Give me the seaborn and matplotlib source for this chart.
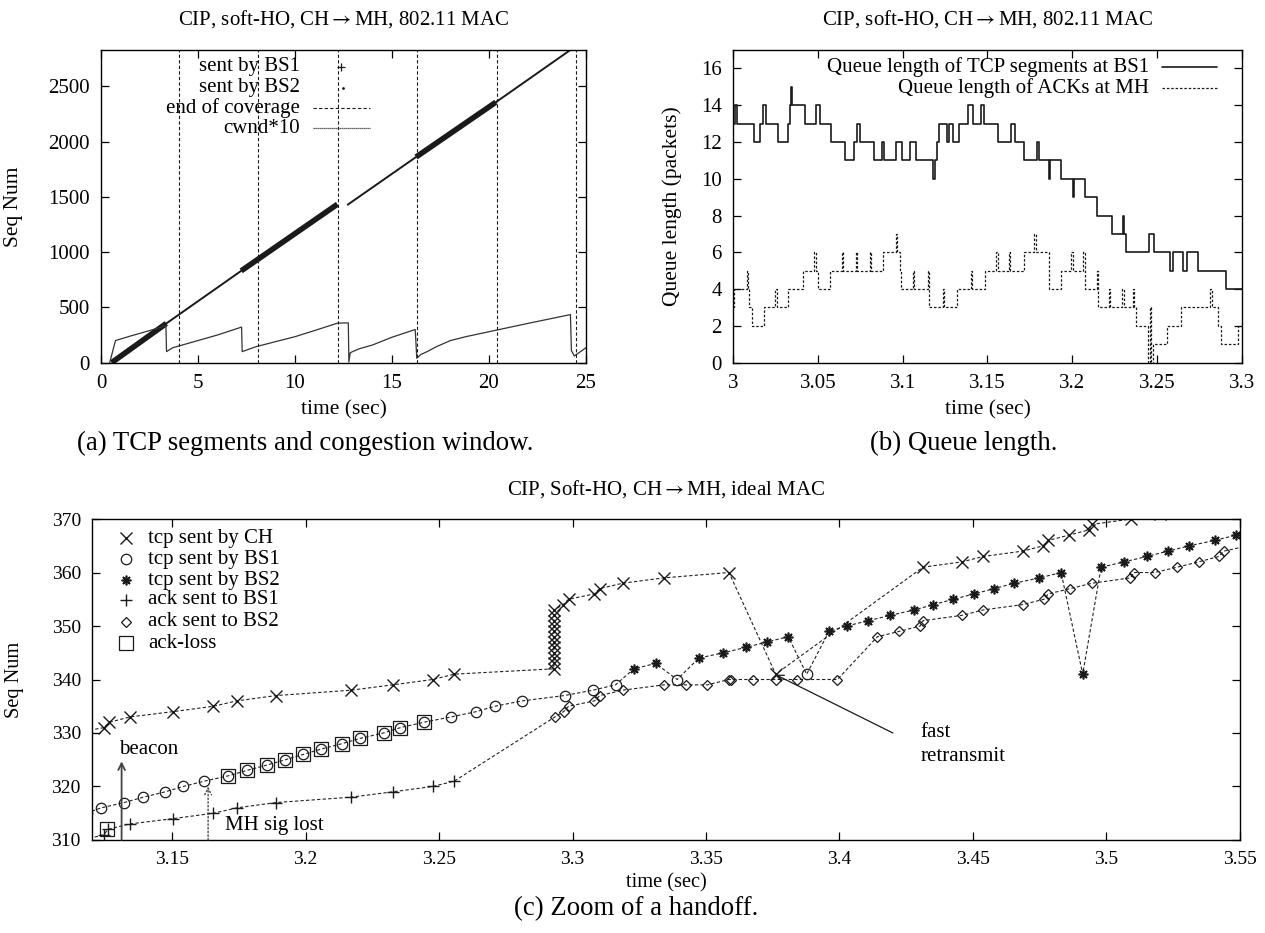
import numpy as np
import pandas as pd
import matplotlib
matplotlib.use("Agg")
import matplotlib.pyplot as plt
from matplotlib.ticker import FuncFormatter
import seaborn as sns

# ---------------- (a) TCP segments and congestion window ----------------
# knots of the seq-number trace, one run per coverage period
a_bs1_t = [0.55, 3.37, 7.23, 12.19, 16.24, 20.36]
a_bs1_seq = [0, 355, 831, 1434, 1861, 2358]
a_bs1_run = [1, 1, 2, 2, 3, 3]
a_bs2_t = [3.37, 7.23, 12.72, 16.24, 20.36, 24.17, 25.0]
a_bs2_seq = [355, 831, 1430, 1861, 2358, 2827, 2930]
a_bs2_run = [1, 1, 2, 2, 3, 3, 3]
a_coverage_end = [4.02, 8.12, 12.2, 16.28, 20.4, 24.5]
a_cwnd_t = [0.45, 0.75, 1.5, 2.5, 3.35, 3.38, 3.7, 4.2, 5.0, 6.0, 7.25, 7.28, 8.0, 9.0,
            10.0, 11.0, 12.2, 12.75, 12.78, 12.85, 13.3, 14.0, 15.0, 16.2, 16.28, 16.5,
            16.8, 17.3, 18.0, 18.8, 20.4, 22.0, 24.2, 24.25, 24.4, 24.6, 25.0]
a_cwnd10 = [0, 200, 240, 290, 335, 100, 135, 160, 200, 250, 322, 100, 145, 190,
            235, 290, 358, 360, 5, 90, 125, 160, 230, 300, 40, 75,
            99, 145, 199, 235, 295, 355, 435, 110, 60, 85, 135]

# ---------------- (b) queue length ----------------
q_tcp_t = [3.0, 3.0012, 3.0022, 3.0125, 3.0162, 3.0175, 3.0192, 3.0267, 3.0322, 3.0334,
           3.0342, 3.0349, 3.0424, 3.0487, 3.0512, 3.0579, 3.0662, 3.0716, 3.0729, 3.0746,
           3.0829, 3.0879, 3.0891, 3.0959, 3.0996, 3.1041, 3.1078, 3.1178, 3.1191, 3.1203,
           3.1216, 3.1261, 3.1273, 3.1296, 3.1335, 3.1385, 3.1415, 3.146, 3.1478, 3.156,
           3.164, 3.166, 3.1715, 3.179, 3.1802, 3.1865, 3.187, 3.1935, 3.2002, 3.2009,
           3.2077, 3.2147, 3.2232, 3.2297, 3.2304, 3.2314, 3.2451, 3.2481, 3.2576, 3.2594,
           3.2651, 3.2676, 3.2738, 3.2908, 3.3]
q_tcp = [13, 14, 13, 12, 13, 14, 13, 12, 13, 14,
         15, 14, 13, 14, 13, 12, 11, 12, 13, 12,
         11, 12, 11, 12, 11, 12, 11, 10, 11, 12,
         13, 12, 13, 12, 13, 14, 13, 14, 13, 12,
         13, 12, 11, 12, 11, 10, 11, 10, 9, 10,
         9, 8, 7, 8, 7, 6, 7, 6, 5, 6,
         5, 6, 5, 4, 4]
q_ack_t = [3.0, 3.0005, 3.008, 3.0087, 3.0097, 3.0112, 3.0185, 3.025, 3.0257, 3.0325,
           3.0412, 3.0479, 3.0487, 3.0499, 3.0574, 3.0642, 3.0649, 3.0724, 3.0731, 3.0809,
           3.0816, 3.0886, 3.0959, 3.0966, 3.0984, 3.0991, 3.1061, 3.1068, 3.1148, 3.1153,
           3.1158, 3.1236, 3.1243, 3.1323, 3.1403, 3.141, 3.1483, 3.1553, 3.156, 3.1628,
           3.1635, 3.1715, 3.1777, 3.1785, 3.186, 3.1865, 3.1935, 3.1994, 3.2002, 3.2064,
           3.2072, 3.2144, 3.2149, 3.2214, 3.2222, 3.2294, 3.2302, 3.2359, 3.2366, 3.2376,
           3.2446, 3.2459, 3.2464, 3.2476, 3.2559, 3.2639, 3.2813, 3.2821, 3.2858, 3.2876,
           3.2976, 3.3]
q_ack = [3, 4, 5, 4, 3, 2, 3, 4, 3, 4,
         5, 6, 5, 4, 5, 6, 5, 6, 5, 6,
         5, 6, 7, 6, 5, 4, 5, 4, 5, 4,
         3, 4, 3, 4, 5, 4, 5, 6, 5, 6,
         5, 6, 7, 6, 5, 4, 5, 6, 5, 6,
         4, 5, 3, 4, 3, 4, 3, 4, 3, 2,
         0, 3, 0, 1, 2, 3, 4, 3, 2, 1,
         2, 2]

# ---------------- (c) zoom of a handoff ----------------
ch_t = [3.113, 3.1245, 3.1265, 3.1342, 3.1505, 3.1655, 3.1742, 3.189, 3.217, 3.2326,
        3.2476, 3.2557] + [3.293] * 12 + [3.2965, 3.2985, 3.3082, 3.3102, 3.3188, 3.3342,
        3.3586, 3.3761, 3.4313, 3.446, 3.4538, 3.4686, 3.4764, 3.4782, 3.486, 3.4936,
        3.4946, 3.5092, 3.52]
ch_seq = list(range(330, 342)) + list(range(342, 354)) + [354, 355, 356, 357, 358, 359,
          360, 341, 361, 362, 363, 364, 365, 366, 367, 368, 369, 370, 371]
bs1_t = [3.118, 3.1234, 3.1321, 3.1392, 3.1474, 3.1542, 3.1621, 3.1711, 3.178, 3.1855,
         3.1924, 3.1992, 3.2059, 3.2136, 3.2205, 3.2292, 3.2355, 3.2442, 3.2545, 3.264,
         3.2709, 3.2811, 3.297, 3.3076, 3.3161, 3.3392, 3.3877]
bs1_seq = list(range(315, 342))
bs2_t = [3.323, 3.3311, 3.3473, 3.3565, 3.3648, 3.3727, 3.3808, 3.3961, 3.4027, 3.4108,
         3.419, 3.428, 3.4351, 3.4427, 3.4504, 3.458, 3.4655, 3.4749, 3.483, 3.4911,
         3.498, 3.5067, 3.5151, 3.523, 3.5311, 3.5405, 3.5486, 3.557]
bs2_seq = [342, 343, 344, 345, 346, 347, 348, 349, 350, 351,
           352, 353, 354, 355, 356, 357, 358, 359, 360, 341,
           361, 362, 363, 364, 365, 366, 367, 368]
ack1_t = [3.117, 3.1245, 3.126, 3.1342, 3.1505, 3.1655, 3.1742, 3.189, 3.217, 3.2326,
          3.2476, 3.2557]
ack1_seq = list(range(310, 322))
ack2_t = [3.2934, 3.2967, 3.2985, 3.3082, 3.3102, 3.3188, 3.3342, 3.3424, 3.3505, 3.3586,
          3.3595, 3.3677, 3.3761, 3.3842, 3.3992, 3.4142, 3.4224, 3.4302, 3.4313, 3.446,
          3.4538, 3.4686, 3.4766, 3.4782, 3.4865, 3.4946, 3.509, 3.5102, 3.518, 3.5265,
          3.5346, 3.5421, 3.544, 3.553]
ack2_seq = [333, 334, 335, 336, 337, 338, 339, 339, 339, 340,
            340, 340, 340, 340, 340, 348, 349, 350, 351, 352,
            353, 354, 355, 356, 357, 358, 359, 360, 360, 361,
            362, 363, 364, 365]
loss_t = [3.1255, 3.1711, 3.178, 3.1855, 3.1924, 3.1992, 3.2059, 3.2136, 3.2205, 3.2292,
          3.2355, 3.2442]
loss_seq = [312, 322, 323, 324, 325, 326, 327, 328, 329, 330, 331, 332]

sns.set_theme(style="ticks", rc={"axes.edgecolor": "black", "text.color": "black",
                                 "xtick.color": "black", "ytick.color": "black",
                                 "axes.labelcolor": "black", "axes.linewidth": 1.0})
plt.rcParams['font.family'] = ['Liberation Serif', 'DejaVu Serif']
plt.rcParams['mathtext.fontset'] = 'stix'

TICK_TOP = 15
TICK_C = 14
LAB_TOP = 15.5
LAB_C = 14.7
LEG = 15
TITLE = 15
CAP = 19.3

fig = plt.figure(figsize=(12.65, 9.33), dpi=100)
ax_a = fig.add_axes([0.0798, 0.6113, 0.3834, 0.3351])
ax_b = fig.add_axes([0.5794, 0.6113, 0.4024, 0.3351])
ax_c = fig.add_axes([0.0727, 0.0997, 0.9075, 0.3440])
gfmt = FuncFormatter(lambda v, p: f'{v:g}')
for ax, ts in ((ax_a, TICK_TOP), (ax_b, TICK_TOP), (ax_c, TICK_C)):
    ax.tick_params(direction='in', top=True, right=True, length=6, width=0.9,
                   labelsize=ts, pad=8)
    ax.set_facecolor('white')

# ---- (a)
dash = (0, (3, 2))
df1 = pd.DataFrame({'t': a_bs1_t, 'seq': a_bs1_seq, 'run': a_bs1_run})
df2 = pd.DataFrame({'t': a_bs2_t, 'seq': a_bs2_seq, 'run': a_bs2_run})
sns.lineplot(data=df1, x='t', y='seq', units='run', estimator=None, color='k',
             linewidth=4, ax=ax_a, solid_capstyle='butt')
sns.lineplot(data=df2, x='t', y='seq', units='run', estimator=None, color='k',
             linewidth=1.4, ax=ax_a)
sns.lineplot(x=a_cwnd_t, y=a_cwnd10, estimator=None, sort=False, color='#333333',
             linewidth=0.9, ax=ax_a)
for t in a_coverage_end:
    ax_a.axvline(t, color='k', lw=0.8, ls=dash)
ax_a.set_xlim(0, 25)
ax_a.set_ylim(0, 2830)
ax_a.set_xticks(range(0, 26, 5))
ax_a.set_yticks(range(0, 2501, 500))
ax_a.set_xlabel('time (sec)', fontsize=LAB_TOP)
ax_a.set_ylabel('Seq Num', fontsize=LAB_TOP)
ax_a.xaxis.set_label_coords(0.5, -0.12)
ax_a.yaxis.set_label_coords(-0.16, 0.5)
rows_a = [0.947, 0.879, 0.814, 0.75]
for y, lab in zip(rows_a, ['sent by BS1', 'sent by BS2', 'end of coverage', 'cwnd*10']):
    ax_a.text(0.41, y, lab, transform=ax_a.transAxes, ha='right', va='center', fontsize=LEG)
ax_a.plot([0.494], [rows_a[0]], transform=ax_a.transAxes, marker='+', color='k', ms=6, mew=0.9)
ax_a.plot([0.50], [rows_a[1]], transform=ax_a.transAxes, marker='.', color='k', ms=2)
ax_a.plot([0.437, 0.555], [rows_a[2]] * 2, transform=ax_a.transAxes, color='k', lw=0.8, ls=dash)
ax_a.plot([0.437, 0.555], [rows_a[3]] * 2, transform=ax_a.transAxes, color='#333333', lw=0.9,
          ls=(0, (1, 0.6)))

# ---- (b)
sns.lineplot(x=q_tcp_t, y=q_tcp, estimator=None, sort=False, color='k', linewidth=1.2,
             drawstyle='steps-post', ax=ax_b)
sns.lineplot(x=q_ack_t, y=q_ack, estimator=None, sort=False, color='k', linewidth=0.9,
             linestyle=(0, (2, 1.5)), drawstyle='steps-post', ax=ax_b)
ax_b.set_xlim(3, 3.3)
ax_b.set_ylim(0, 17)
ax_b.set_xticks(np.round(np.arange(3, 3.31, 0.05), 2))
ax_b.set_yticks(range(0, 17, 2))
ax_b.xaxis.set_major_formatter(gfmt)
ax_b.set_xlabel('time (sec)', fontsize=LAB_TOP)
ax_b.set_ylabel('Queue length (packets)', fontsize=LAB_TOP)
ax_b.xaxis.set_label_coords(0.5, -0.12)
ax_b.yaxis.set_label_coords(-0.10, 0.5)
rows_b = [0.945, 0.879]
ax_b.text(0.817, rows_b[0], 'Queue length of TCP segments at BS1', transform=ax_b.transAxes,
          ha='right', va='center', fontsize=LEG)
ax_b.text(0.817, rows_b[1], 'Queue length of ACKs at MH', transform=ax_b.transAxes,
          ha='right', va='center', fontsize=LEG)
ax_b.plot([0.842, 0.95], [rows_b[0]] * 2, transform=ax_b.transAxes, color='k', lw=1.2)
ax_b.plot([0.842, 0.95], [rows_b[1]] * 2, transform=ax_b.transAxes, color='k', lw=0.9,
          ls=(0, (2, 1.5)))

# ---- (c)
lkw = dict(color='#222222', linewidth=0.8, linestyle=(0, (3, 2)), ax=ax_c, estimator=None)
sns.lineplot(x=ch_t, y=ch_seq, sort=False, **lkw)
bs = pd.DataFrame({'t': bs1_t + bs2_t, 'seq': bs1_seq + bs2_seq})
sns.lineplot(data=bs, x='t', y='seq', sort=True, **lkw)
ack = pd.DataFrame({'t': ack1_t + ack2_t, 'seq': ack1_seq + ack2_seq})
sns.lineplot(data=ack, x='t', y='seq', sort=True, **lkw)

mk = {
    'ch': dict(marker='x', markersize=8, markeredgewidth=1.0),
    'bs1': dict(marker='o', markersize=7.5, markeredgewidth=0.9, markerfacecolor='none'),
    'bs2': dict(marker=(8, 2, 0), markersize=7, markeredgewidth=1.2),
    'ack1': dict(marker='+', markersize=8, markeredgewidth=1.0),
    'ack2': dict(marker='D', markersize=5.5, markeredgewidth=0.9, markerfacecolor='none'),
    'loss': dict(marker='s', markersize=9.5, markeredgewidth=0.9, markerfacecolor='none'),
}
for key, xs, ys in [('ch', ch_t, ch_seq), ('bs1', bs1_t, bs1_seq), ('bs2', bs2_t, bs2_seq),
                    ('ack1', ack1_t, ack1_seq), ('ack2', ack2_t, ack2_seq),
                    ('loss', loss_t, loss_seq)]:
    sns.lineplot(x=xs, y=ys, estimator=None, sort=False, linestyle='none', color='k',
                 markeredgecolor='k', ax=ax_c, **mk[key])

ax_c.set_xlim(3.12, 3.55)
ax_c.set_ylim(310, 370)
ax_c.set_xticks(np.round(np.arange(3.15, 3.551, 0.05), 2))
ax_c.set_yticks(range(310, 371, 10))
ax_c.xaxis.set_major_formatter(gfmt)
ax_c.set_xlabel('time (sec)', fontsize=LAB_C)
ax_c.set_ylabel('Seq Num', fontsize=LAB_C)
ax_c.xaxis.set_label_coords(0.5, -0.105)
ax_c.yaxis.set_label_coords(-0.059, 0.5)

labels_c = ['tcp sent by CH', 'tcp sent by BS1', 'tcp sent by BS2', 'ack sent to BS1',
            'ack sent to BS2', 'ack-loss']
rows_c = [0.940, 0.874, 0.810, 0.748, 0.680, 0.613]
for key, y, lab in zip(['ch', 'bs1', 'bs2', 'ack1', 'ack2', 'loss'], rows_c, labels_c):
    ax_c.plot([0.030], [y], transform=ax_c.transAxes, color='k', markeredgecolor='k',
              linestyle='none', **mk[key])
    ax_c.text(0.049, y, lab, transform=ax_c.transAxes, ha='left', va='center', fontsize=LEG)

ax_c.annotate('', xy=(3.1311, 324.7), xytext=(3.1311, 310),
              arrowprops=dict(arrowstyle='->', color='#444444', lw=1.3, shrinkA=0, shrinkB=0))
ax_c.text(3.1302, 326.9, 'beacon', ha='left', va='center', fontsize=LEG)
ax_c.annotate('', xy=(3.1635, 320), xytext=(3.1635, 310),
              arrowprops=dict(arrowstyle='->', color='#444444', lw=1.0, ls=':',
                              shrinkA=0, shrinkB=0))
ax_c.text(3.1698, 312.8, 'MH sig lost', ha='left', va='center', fontsize=LEG)
ax_c.annotate('', xy=(3.3761, 340.9), xytext=(3.42, 330),
              arrowprops=dict(arrowstyle='->', color='k', lw=0.9, shrinkA=0, shrinkB=0))
ax_c.text(3.4303, 330, 'fast', ha='left', va='center', fontsize=LEG)
ax_c.text(3.4303, 325.6, 'retransmit', ha='left', va='center', fontsize=LEG)

# titles and captions
arrow = r'$\rightarrow$'
fig.text(0.2715, 0.9796, f'CIP, soft-HO, CH{arrow}MH, 802.11 MAC', ha='center', va='center',
         fontsize=TITLE)
fig.text(0.7806, 0.9796, f'CIP, soft-HO, CH{arrow}MH, 802.11 MAC', ha='center', va='center',
         fontsize=TITLE)
fig.text(0.5265, 0.476, f'CIP, Soft-HO, CH{arrow}MH, ideal MAC', ha='center', va='center',
         fontsize=TITLE)
fig.text(0.0609, 0.5177, '(a) TCP segments and congestion window.', ha='left', va='baseline',
         fontsize=CAP)
fig.text(0.6877, 0.5177, '(b) Queue length.', ha='left', va='baseline', fontsize=CAP)
fig.text(0.4063, 0.0193, '(c) Zoom of a handoff.', ha='left', va='baseline', fontsize=CAP)

fig.savefig('out.png', dpi=100, facecolor='white')
